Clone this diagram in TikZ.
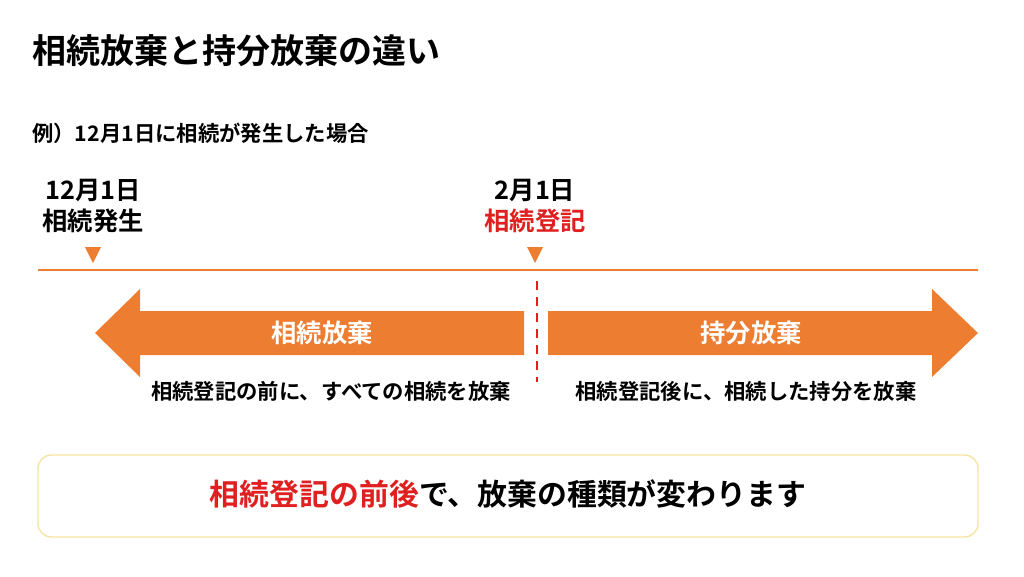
\documentclass[tikz,border=0pt]{standalone}
\usepackage{fontspec}
\setmainfont{Noto Sans CJK JP}
\newfontfamily\jpb{Noto Sans CJK JP Bold}
\definecolor{org}{HTML}{ED7D31}
\definecolor{rd}{HTML}{E02020}
\definecolor{yl}{HTML}{F7E3A1}
\begin{document}
\begin{tikzpicture}[x=0.75pt,y=-0.75pt,
  txt/.style={inner sep=0pt,font=\jpb\fontsize{19}{22}\selectfont},
  sub/.style={inner sep=0pt,font=\jpb\fontsize{16}{19}\selectfont},
  tri/.style={fill=org,draw=none}]
\useasboundingbox (0,0) rectangle (1024,576);
\node[anchor=west,inner sep=0pt,font=\jpb\fontsize{25.5}{30}\selectfont] (title) at (32,51) {相続放棄と持分放棄の違い};
\node[anchor=west,inner sep=0pt,font=\jpb\fontsize{16}{19}\selectfont] (ex) at (32,133) {例）12月1日に相続が発生した場合};
\node[txt] (d1) at (93,190) {12月1日};
\node[txt] (e1) at (93,221) {相続発生};
\node[txt] (d2) at (535,190) {2月1日};
\node[txt,text=rd] (e2) at (535,221) {相続登記};
\fill[tri] (85,247) -- (101,247) -- (93,263) -- cycle;
\fill[tri] (527,247) -- (543,247) -- (535,263) -- cycle;
\draw[org,line width=0.8pt] (38,270) -- (978,270);
\draw[rd,line width=2pt,dash pattern=on 7pt off 5pt] (537,281) -- (537,382);
\fill[org] (95,333) -- (140,289) -- (140,311) -- (524,311) -- (524,355) -- (140,355) -- (140,377) -- cycle;
\fill[org] (978,333) -- (932,289) -- (932,311) -- (548,311) -- (548,355) -- (932,355) -- (932,377) -- cycle;
\node[txt,text=white] (l1) at (322,333) {相続放棄};
\node[txt,text=white] (l2) at (751,333) {持分放棄};
\node[sub] (s1) at (331,391) {相続登記の前に、すべての相続を放棄};
\node[sub] (s2) at (746,391) {相続登記後に、相続した持分を放棄};
\draw[yl,line width=1pt,rounded corners=10pt] (38,455) rectangle (978,537);
\node[inner sep=0pt,font=\jpb\fontsize{22.4}{26}\selectfont] (m) at (508,494) {\textcolor{rd}{相続登記の前後}で、放棄の種類が変わります};
\end{tikzpicture}
\end{document}
